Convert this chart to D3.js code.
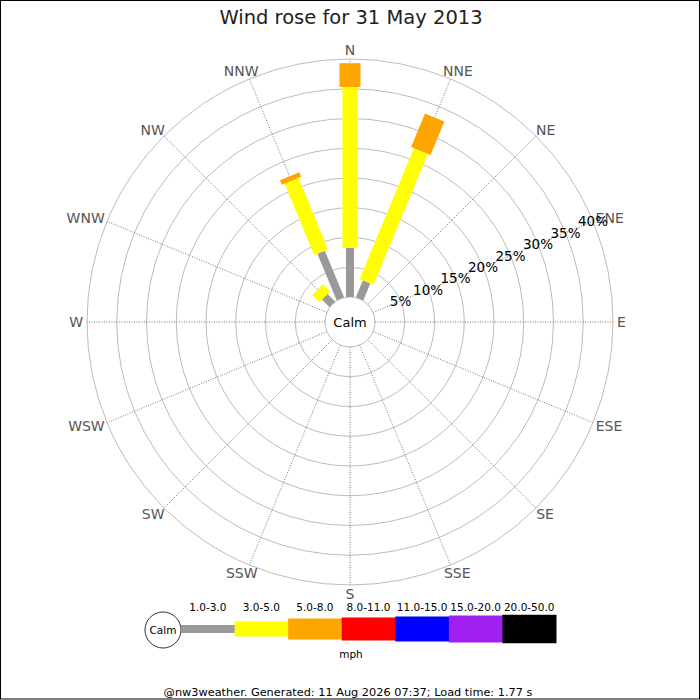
<!DOCTYPE html>
<html><head><meta charset="utf-8">
<script src="https://cdn.jsdelivr.net/npm/d3@7"></script>
<style>body{margin:0;background:#fff}svg{display:block;font-family:"DejaVu Sans",sans-serif}</style>
</head><body><svg id="c" width="700" height="700"></svg>
<script>
const directions = ["N","NNE","NE","ENE","E","ESE","SE","SSE","S","SSW","SW","WSW","W","WNW","NW","NNW"];
const speedBins = ["1.0-3.0","3.0-5.0","5.0-8.0","8.0-11.0","11.0-15.0","15.0-20.0","20.0-50.0"];
const binColors = ["#999999","#ffff00","#ffa500","#ff0000","#0000ff","#a020f0","#000000"];
const binWidths = [8,15,21,23,25,27,28.5];
// percentage of time per direction for each speed bin
const bin1 = [8.3,3.1,0,0,0,0,0,0,0,0,0,0,0,0,1.8,8.5];
const bin2 = [27.0,23.8,0,0,0,0,0,0,0,0,0,0,0,0,1.7,13.0];
const bin3 = [4.0,6.1,0,0,0,0,0,0,0,0,0,0,0,0,0,0.8];
const bin4 = [0,0,0,0,0,0,0,0,0,0,0,0,0,0,0,0];
const bin5 = [0,0,0,0,0,0,0,0,0,0,0,0,0,0,0,0];
const bin6 = [0,0,0,0,0,0,0,0,0,0,0,0,0,0,0,0];
const bin7 = [0,0,0,0,0,0,0,0,0,0,0,0,0,0,0,0];
const series = [bin1,bin2,bin3,bin4,bin5,bin6,bin7];
const ringTicks = [5,10,15,20,25,30,35,40];
const title = "Wind rose for 31 May 2013";
const footer = "@nw3weather. Generated: 11 Aug 2026 07:37; Load time: 1.77 s";

const svg = d3.select("#c");
const cx = 350, cy = 322, calmR = 25;
const r = d3.scaleLinear().domain([0,40]).range([calmR,263]);
const ang = d3.scaleBand().domain(directions).range([0,360]);
const angOf = d => ang(d) * Math.PI/180;

svg.append("rect").attr("x",0.5).attr("y",0.5).attr("width",699).attr("height",698.5)
  .attr("fill","none").attr("stroke","#000");

svg.append("text").attr("x",351).attr("y",24).attr("text-anchor","middle")
  .attr("font-size",19.5).attr("fill","#222").text(title);

const g = svg.append("g").attr("transform",`translate(${cx},${cy})`);

g.selectAll("circle.ring").data(ringTicks).join("circle").attr("class","ring")
  .attr("r",d=>r(d)).attr("fill","none").attr("stroke","#aaa").attr("stroke-width",0.8);

g.selectAll("line.spoke").data(directions).join("line")
  .attr("x1",d=>calmR*Math.sin(angOf(d))).attr("y1",d=>-calmR*Math.cos(angOf(d)))
  .attr("x2",d=>r(40)*Math.sin(angOf(d))).attr("y2",d=>-r(40)*Math.cos(angOf(d)))
  .attr("stroke","#555").attr("stroke-width",0.8).attr("stroke-dasharray","1,1.5");

g.selectAll("text.dir").data(directions).join("text")
  .attr("font-size",14).attr("fill","#555").attr("text-anchor","middle").attr("dominant-baseline","central")
  .text(d=>d)
  .each(function(d){
    const a = angOf(d), w = this.getComputedTextLength(), h = 10;
    const x = 267*Math.sin(a) + (w/2)*Math.sin(a);
    const y = -267*Math.cos(a) - (h/2)*Math.cos(a);
    d3.select(this).attr("x",x).attr("y",y);
  });

const bars = [];
directions.forEach((d,i)=>{
  let cum = 0;
  series.forEach((s,k)=>{
    const v = s[i];
    if (v > 0) bars.push({dir:d, k, r0:r(cum), r1:r(cum+v)});
    cum += v;
  });
});
g.selectAll("rect.bar").data(bars).join("rect")
  .attr("x",d=>-binWidths[d.k]/2).attr("width",d=>binWidths[d.k])
  .attr("y",d=>-d.r1).attr("height",d=>d.r1-d.r0)
  .attr("fill",d=>binColors[d.k])
  .attr("transform",d=>`rotate(${ang(d.dir)})`);

g.append("circle").attr("r",calmR).attr("fill","#fff").attr("stroke","#aaa").attr("stroke-width",0.8);
g.append("text").attr("text-anchor","middle").attr("dominant-baseline","central")
  .attr("font-size",13).attr("fill","#000").text("Calm");

const la = angOf("ENE");
g.selectAll("text.ring").data(ringTicks).join("text")
  .attr("x",d=>r(d)*Math.sin(la)).attr("y",d=>-r(d)*Math.cos(la))
  .attr("text-anchor","middle").attr("dominant-baseline","central")
  .attr("font-size",13.5).attr("fill","#000").text(d=>d+"%");

const lx = d3.scaleBand().domain(speedBins).range([181,556]);
const lg = svg.append("g");
lg.append("circle").attr("cx",163).attr("cy",630).attr("r",18).attr("fill","#fff").attr("stroke","#000").attr("stroke-width",0.8);
lg.append("text").attr("x",163).attr("y",630).attr("text-anchor","middle").attr("dominant-baseline","central")
  .attr("font-size",10.5).text("Calm");
lg.selectAll("rect").data(speedBins).join("rect")
  .attr("x",d=>lx(d)).attr("width",lx.bandwidth()+0.5)
  .attr("y",(d,i)=>629-binWidths[i]/2).attr("height",(d,i)=>binWidths[i])
  .attr("fill",(d,i)=>binColors[i]);
lg.selectAll("text.lab").data(speedBins).join("text")
  .attr("x",d=>lx(d)+lx.bandwidth()/2).attr("y",611).attr("text-anchor","middle")
  .attr("font-size",10.5).attr("fill","#000").text(d=>d);
lg.append("text").attr("x",351).attr("y",658).attr("text-anchor","middle").attr("font-size",10.5).text("mph");

svg.append("text").attr("x",348).attr("y",696).attr("text-anchor","middle")
  .attr("font-size",11.3).attr("fill","#000").text(footer);
</script></body></html>
